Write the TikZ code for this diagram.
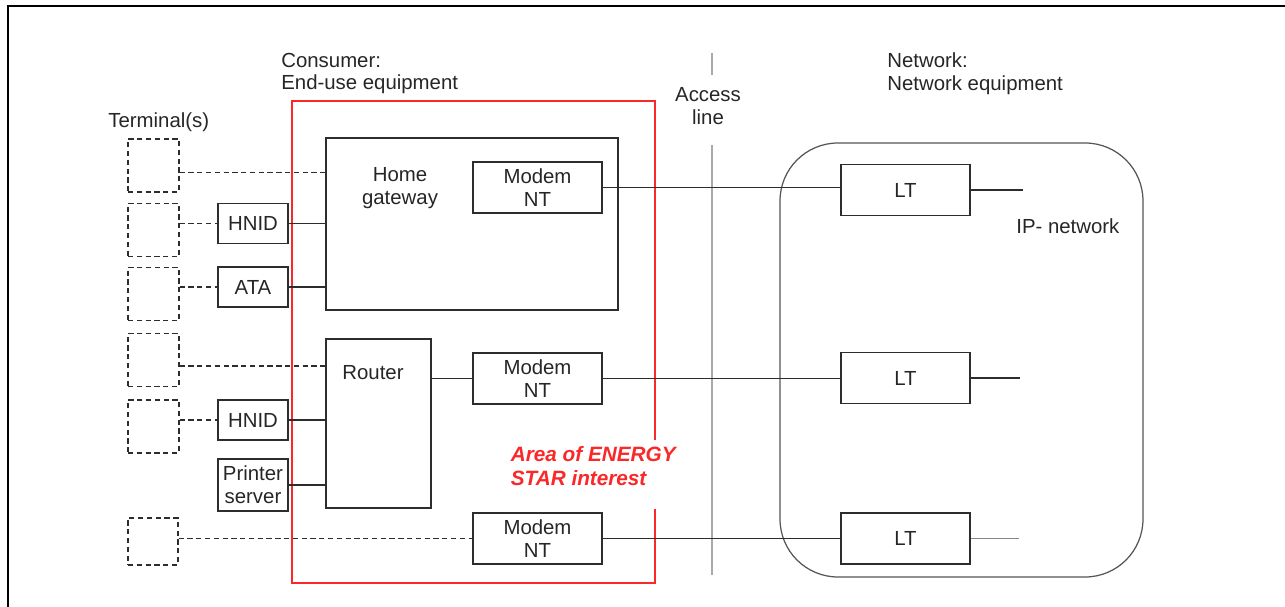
\documentclass[tikz,border=0pt]{standalone}
\usepackage{fontspec}
\setmainfont{Liberation Sans}
\usetikzlibrary{
    calc
}
\definecolor{boxline}{RGB}{45,45,45}
\definecolor{estarred}{RGB}{250,40,40}
\definecolor{accessgray}{RGB}{170,170,170}
\definecolor{cloudline}{RGB}{85,85,85}

\begin{document}
\begin{tikzpicture}[
        x=0.02cm, y=-0.02cm,
        every node/.style={
            font=\fontsize{11.6}{13}\selectfont,
            text=black!85
        },
        term/.style={
            draw=boxline,
            dash pattern=on 3pt off 2pt,
            line width=0.7pt,
            minimum width=1.02cm,
            minimum height=1.06cm,
            inner sep=0pt
        },
        unit/.style={
            draw=boxline,
            line width=0.7pt,
            align=center,
            inner sep=0pt,
            minimum width=1.4cm,
            minimum height=0.8cm
        },
        wide/.style={
            unit,
            minimum width=2.58cm,
            minimum height=1.02cm
        },
        link/.style={
            draw=boxline,
            line width=0.7pt
        },
        dlink/.style={
            link,
            dash pattern=on 3pt off 2pt
        },
        title/.style={
            align=left,
            anchor=west,
            inner sep=0pt
        }
    ]

    \useasboundingbox (0,0) rectangle (1285,607);

    % page frame
    \draw[line width=1.1pt] (8,607) -- (8,6) -- (1285,6);

    % headings
    \node[title] (consumer) at (281,73.5) {Consumer:\\End-use equipment};
    \node[title] (terminals) at (108,122) {Terminal(s)};
    \node[align=center, inner sep=0pt] (access) at (708,106) {Access\\line};
    \node[title] (network) at (887,73.5) {Network:\\Network equipment};
    \node[title] (ipnet) at (1016,226) {IP- network};

    % areas
    \draw[estarred, line width=0.8pt] (292,101) rectangle (655,583);
    \draw[cloudline, line width=0.7pt, rounded corners=1.16cm] (780,143) rectangle (1143,577);
    \draw[accessgray, line width=0.7pt] (712,53) -- (712,75) (712,145) -- (712,575);

    % terminals
    \foreach \n/\y in {1/165.5, 2/230, 3/294, 4/360, 5/426.5}
        \node[term] (t\n) at (153.5,\y) {};
    \node[term, minimum width=1.0cm, minimum height=0.94cm] (t6) at (153,541.5) {};

    % end-use equipment
    \node[unit] (hnida) at (253,223.5) {HNID};
    \node[unit] (ata) at (253,287) {ATA};
    \node[unit] (hnidb) at (253,420) {HNID};
    \node[unit, minimum height=1.04cm] (printer) at (253,485) {Printer\\server};

    \node[unit, minimum width=5.84cm, minimum height=3.44cm] (gateway) at (472,224) {};
    \node[inner sep=0pt, align=center] (gwtext) at (400,188) {Home\\gateway};
    \node[wide] (nta) at (537.5,187.5) {Modem\\NT};

    \node[unit, minimum width=2.1cm, minimum height=3.38cm] (router) at (378.5,423.5) {};
    \node[inner sep=0pt] (routertext) at (373,373) {Router};
    \node[wide] (ntb) at (537.5,378.5) {Modem\\NT};
    \node[wide] (ntc) at (537.5,538.5) {Modem\\NT};

    % network equipment
    \foreach \n/\y in {a/190, b/378, c/538.5}
        \node[wide] (lt\n) at (905.5,\y) {LT};

    \node[anchor=north west, fill=white, align=left,
          inner xsep=2pt, inner ysep=3.4pt, text=estarred,
          font=\fontsize{11.8}{14}\selectfont\bfseries\itshape] (interest)
        at (507,440) {Area of ENERGY\\STAR interest\rule[-10pt]{0pt}{0pt}};

    % home side links
    \coordinate (ta) at ($(t1.east)+(0,7)$);
    \coordinate (tb) at ($(t4.east)+(0,6)$);
    \draw[dlink] (ta) -- (ta -| gateway.west);
    \draw[dlink] (t2.east |- hnida.west) -- (hnida.west);
    \draw[link] (hnida.east) -- (hnida.east -| gateway.west);
    \draw[dlink] (t3.east |- ata.west) -- (ata.west);
    \draw[link] (ata.east) -- (ata.east -| gateway.west);
    \draw[dlink] (tb) -- (tb -| router.west);
    \draw[dlink] (t5.east |- hnidb.west) -- (hnidb.west);
    \draw[link] (hnidb.east) -- (hnidb.east -| router.west);
    \draw[link] (printer.east) -- (printer.east -| router.west);
    \draw[dlink] (t6.east |- ntc.west) -- (ntc.west);
    \draw[link] (router.east |- ntb.west) -- (ntb.west);

    % access lines
    \draw[link] (nta.east) -- (nta.east -| lta.west);
    \draw[link] (ntb.east) -- (ntb.east -| ltb.west);
    \draw[link] (ntc.east) -- (ntc.east -| ltc.west);

    % towards the IP network
    \coordinate (ipa) at (1023,190);
    \coordinate (ipb) at (1020,378);
    \coordinate (ipc) at (1019,538.5);
    \draw[link] (lta.east) -- (ipa);
    \draw[link] (ltb.east) -- (ipb);
    \draw[link, draw=cloudline!70] (ltc.east) -- (ipc);

\end{tikzpicture}
\end{document}
